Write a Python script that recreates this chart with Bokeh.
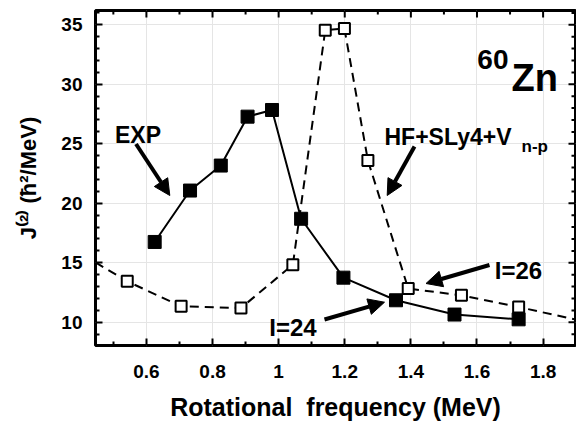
import math
from bokeh.plotting import figure
from bokeh.models import Range1d, FixedTicker, LinearAxis, Label, Arrow, NormalHead
from bokeh.embed import file_html
from bokeh.resources import INLINE

# ---------------- data ----------------
exp_freq = [0.625, 0.732, 0.825, 0.906, 0.980, 1.068, 1.196, 1.355, 1.532, 1.726]
exp_j2 = [16.75, 21.07, 23.17, 27.28, 27.84, 18.70, 13.75, 11.85, 10.65, 10.25]

hf_freq = [0.542, 0.705, 0.886, 1.043, 1.141, 1.199, 1.270, 1.392, 1.553, 1.726]
hf_j2 = [13.44, 11.34, 11.20, 14.84, 34.55, 34.69, 23.60, 12.83, 12.27, 11.28]
# the dashed curve runs on to both frame edges
hf_edge_left = (0.446, 15.03)
hf_edge_right = (1.898, 10.23)

x_ticks = [0.6, 0.8, 1.0, 1.2, 1.4, 1.6, 1.8]
x_tick_labels = ["0.6", "0.8", "1", "1.2", "1.4", "1.6", "1.8"]
x_minor = [0.5, 0.7, 0.9, 1.1, 1.3, 1.5, 1.7, 1.9]
y_ticks = [10, 15, 20, 25, 30, 35]
y_minor = [9, 11, 12, 13, 14, 16, 17, 18, 19, 21, 22, 23, 24, 26, 27, 28, 29, 31, 32, 33, 34, 36]

X0, X1 = 0.446, 1.898
Y0, Y1 = 8.05, 36.2
FONT = "Liberation Sans"

W, H = 576, 427
BL, BR, BT, BB = 95, 1, 10, 82

p = figure(width=W, height=H, x_range=Range1d(X0, X1), y_range=Range1d(Y0, Y1),
           output_backend="svg", toolbar_location=None,
           x_axis_location=None, y_axis_location=None,
           min_border_left=BL, min_border_right=BR, min_border_top=BT, min_border_bottom=BB)
p.outline_line_color = "black"
p.outline_line_width = 3
p.background_fill_color = "white"
p.border_fill_color = "white"

PPX = (W - BL - BR) / (X1 - X0)   # pixels per data unit
PPY = (H - BT - BB) / (Y1 - Y0)


def make_axis(ax, ticks, minor):
    ax.ticker = FixedTicker(ticks=ticks, minor_ticks=minor)
    ax.axis_line_color = None
    ax.major_tick_in = 7
    ax.major_tick_out = 0
    ax.minor_tick_in = 4
    ax.minor_tick_out = 0
    ax.major_tick_line_width = 2
    ax.minor_tick_line_width = 2
    ax.major_tick_line_color = "black"
    ax.minor_tick_line_color = "black"
    ax.major_label_text_font = FONT
    ax.major_label_text_font_style = "bold"
    ax.major_label_text_color = "black"
    ax.major_label_text_font_size = "19px"
    ax.axis_label_text_font = FONT
    ax.axis_label_text_font_style = "bold"
    ax.axis_label_text_color = "black"
    return ax


xb = make_axis(LinearAxis(), x_ticks, x_minor)
xb.major_label_overrides = {("%g" % v): lab for v, lab in zip(x_ticks, x_tick_labels)}
xb.major_label_standoff = 19
xb.axis_label = "Rotational\u00a0 frequency (MeV)"
xb.axis_label_text_font_size = "25px"
xb.axis_label_standoff = 12
yl = make_axis(LinearAxis(), y_ticks, y_minor)
yl.major_label_standoff = 13
yl.axis_label = "J\u207d\u00b2\u207e (\u0127\u00b2/MeV)"
yl.axis_label_text_font_size = "22px"
yl.axis_label_standoff = 17
p.add_layout(xb, "below")
p.add_layout(yl, "left")


# mirrored inward ticks on the top and right edges
def mirrored_ticks(ticks, length, side):
    if side == "top":
        p.segment(x0=ticks, y0=[Y1] * len(ticks), x1=ticks, y1=[Y1 - length / PPY] * len(ticks),
                  line_color="black", line_width=2)
    else:
        p.segment(x0=[X1] * len(ticks), y0=ticks, x1=[X1 - length / PPX] * len(ticks), y1=ticks,
                  line_color="black", line_width=2)


mirrored_ticks(x_ticks, 7, "top")
mirrored_ticks(x_minor, 4, "top")
mirrored_ticks(y_ticks, 7, "right")
mirrored_ticks(y_minor, 4, "right")

# ---------------- curves ----------------
hf_lx = [hf_edge_left[0]] + hf_freq + [hf_edge_right[0]]
hf_ly = [hf_edge_left[1]] + hf_j2 + [hf_edge_right[1]]
p.line(hf_lx, hf_ly, line_color="black", line_width=2, line_dash="9 6")
p.line(exp_freq, exp_j2, line_color="black", line_width=2)
p.scatter(exp_freq, exp_j2, marker="square", size=13, fill_color="black", line_color="black")
p.scatter(hf_freq, hf_j2, marker="square", size=11, fill_color="white", line_color="black", line_width=2)


# ---------------- annotations (placed from reference pixel positions) ----------------
def rx(px):
    return X0 + (px - BL) / PPX


def ry(py):
    return Y0 + (H - BB - py) / PPY


def lab(text, px, py, size, align="left", style="bold"):
    p.add_layout(Label(x=rx(px), y=ry(py), text=text, text_font=FONT, text_font_style=style,
                       text_font_size=size, text_align=align, text_baseline="alphabetic",
                       text_color="black"))


lab("EXP", 137.5, 134, "23px", "center")
lab("HF+SLy4+V", 384, 136, "23px")
lab("n-p", 521, 146, "17px")
lab("Zn", 511, 77, "38px")
lab("60", 508, 58.5, "28px", "right")
lab("I=26", 518, 270, "24px", "center")
lab("I=24", 292.5, 327, "24px", "center")


def arrow(x0, y0, x1, y1):
    p.add_layout(Arrow(x_start=rx(x0), y_start=ry(y0), x_end=rx(x1), y_end=ry(y1),
                       line_width=4, line_color="black",
                       end=NormalHead(size=16, fill_color="black", line_color="black", line_width=1)))


arrow(135.5, 143.5, 169.3, 195.0)
arrow(414.0, 146.0, 386.7, 195.0)
arrow(489.0, 264.5, 425.5, 283.0)
arrow(324.0, 319.0, 384.0, 301.7)

open("out.html", "w").write(file_html(p, INLINE))
